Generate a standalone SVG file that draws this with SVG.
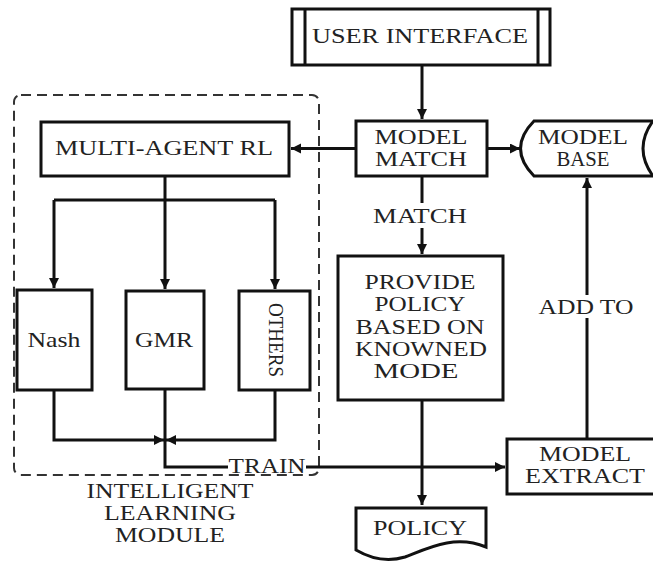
<svg xmlns="http://www.w3.org/2000/svg" width="653" height="562" viewBox="0 0 653 562">
<style>
.box{fill:#fff;stroke:#111;stroke-width:3}
.ln{fill:none;stroke:#111;stroke-width:3}
.t{font-family:"Liberation Serif","Times New Roman",serif;font-size:21px;font-weight:normal;fill:#222;text-anchor:middle}
.dash{fill:none;stroke:#333;stroke-width:2;stroke-dasharray:10 6}
</style>
<defs>
<marker id="ah" markerUnits="userSpaceOnUse" markerWidth="12" markerHeight="12" refX="10" refY="5" orient="auto">
<path d="M0,0 L10,5 L0,10 z" fill="#111"/>
</marker>
</defs>
<rect width="653" height="562" fill="#fff"/>

<g id="intelligent-learning-module">
<rect class="dash" x="14" y="95" width="305" height="380" rx="7"/>
<text class="t" x="170" y="498" textLength="167" lengthAdjust="spacingAndGlyphs">INTELLIGENT</text>
<text class="t" x="170" y="520" textLength="132" lengthAdjust="spacingAndGlyphs">LEARNING</text>
<text class="t" x="170" y="542" textLength="110" lengthAdjust="spacingAndGlyphs">MODULE</text>
</g>

<g id="connectors">
<path class="ln" d="M422,65 V119" marker-end="url(#ah)"/>
<path class="ln" d="M356,148.5 H291" marker-end="url(#ah)"/>
<path class="ln" d="M487,148.5 H520" marker-end="url(#ah)"/>
<path class="ln" d="M422,176 V203"/>
<path class="ln" d="M422,228 V254" marker-end="url(#ah)"/>
<path class="ln" d="M422,400 V505" marker-end="url(#ah)"/>
<path class="ln" d="M587,439 V318"/>
<path class="ln" d="M587,295 V178" marker-end="url(#ah)"/>
<path class="ln" d="M165,176 V200 M54,200 H275"/>
<path class="ln" d="M54,200 V288" marker-end="url(#ah)"/>
<path class="ln" d="M165,200 V289" marker-end="url(#ah)"/>
<path class="ln" d="M275,200 V289" marker-end="url(#ah)"/>
<path class="ln" d="M54,390 V440 H164" marker-end="url(#ah)"/>
<path class="ln" d="M275,390 V440 H166" marker-end="url(#ah)"/>
<path class="ln" d="M165,390 V467 H228"/>
<path class="ln" d="M306,467 H505" marker-end="url(#ah)"/>
<text class="t" x="267" y="473" textLength="77" lengthAdjust="spacingAndGlyphs">TRAIN</text>
<text class="t" x="420" y="223" textLength="94" lengthAdjust="spacingAndGlyphs">MATCH</text>
<text class="t" x="586" y="314" textLength="95" lengthAdjust="spacingAndGlyphs">ADD TO</text>
</g>

<g id="user-interface">
<rect class="box" x="292" y="9" width="258" height="56"/>
<path class="ln" d="M305,9 V65 M538,9 V65"/>
<text class="t" x="420" y="43" textLength="216" lengthAdjust="spacingAndGlyphs">USER INTERFACE</text>
</g>

<g id="model-match">
<rect class="box" x="356" y="121" width="131" height="55"/>
<text class="t" x="421" y="144" textLength="93" lengthAdjust="spacingAndGlyphs">MODEL</text>
<text class="t" x="421" y="166" textLength="92" lengthAdjust="spacingAndGlyphs">MATCH</text>
</g>

<g id="model-base">
<path class="box" d="M534,121 H660 V176 H534 Q507,148.5 534,121 Z"/>
<path class="ln" d="M653,121 Q633,148.5 653,176"/>
<text class="t" x="583" y="144" textLength="90" lengthAdjust="spacingAndGlyphs">MODEL</text>
<text class="t" x="583" y="166" textLength="53" lengthAdjust="spacingAndGlyphs">BASE</text>
</g>

<g id="multi-agent-rl">
<rect class="box" x="41" y="122" width="248" height="54"/>
<text class="t" x="164" y="155" textLength="218" lengthAdjust="spacingAndGlyphs">MULTI-AGENT RL</text>
</g>

<g id="nash">
<rect class="box" x="17" y="290" width="75" height="100"/>
<text class="t" x="54" y="347" textLength="53" lengthAdjust="spacingAndGlyphs">Nash</text>
</g>

<g id="gmr">
<rect class="box" x="126" y="291" width="78" height="98"/>
<text class="t" x="164" y="347" textLength="58" lengthAdjust="spacingAndGlyphs">GMR</text>
</g>

<g id="others">
<rect class="box" x="239" y="291" width="71" height="99"/>
<text class="t" transform="translate(269,340) rotate(90)" x="0" y="0" textLength="74" lengthAdjust="spacingAndGlyphs">OTHERS</text>
</g>

<g id="provide-policy">
<rect class="box" x="338" y="256" width="165" height="144"/>
<text class="t" x="420" y="289" textLength="111" lengthAdjust="spacingAndGlyphs">PROVIDE</text>
<text class="t" x="420" y="311" textLength="91" lengthAdjust="spacingAndGlyphs">POLICY</text>
<text class="t" x="420" y="334" textLength="129" lengthAdjust="spacingAndGlyphs">BASED ON</text>
<text class="t" x="421" y="356" textLength="132" lengthAdjust="spacingAndGlyphs">KNOWNED</text>
<text class="t" x="416" y="378" textLength="85" lengthAdjust="spacingAndGlyphs">MODE</text>
</g>

<g id="policy">
<path class="box" d="M356,508 H486 V547 C455,534 428,548 405,557 C385,563 368,557 356,550 Z"/>
<text class="t" x="420" y="535" textLength="94" lengthAdjust="spacingAndGlyphs">POLICY</text>
</g>

<g id="model-extract">
<rect class="box" x="507" y="439" width="150" height="55"/>
<text class="t" x="585" y="461" textLength="92" lengthAdjust="spacingAndGlyphs">MODEL</text>
<text class="t" x="585" y="483" textLength="120" lengthAdjust="spacingAndGlyphs">EXTRACT</text>
</g>
</svg>
